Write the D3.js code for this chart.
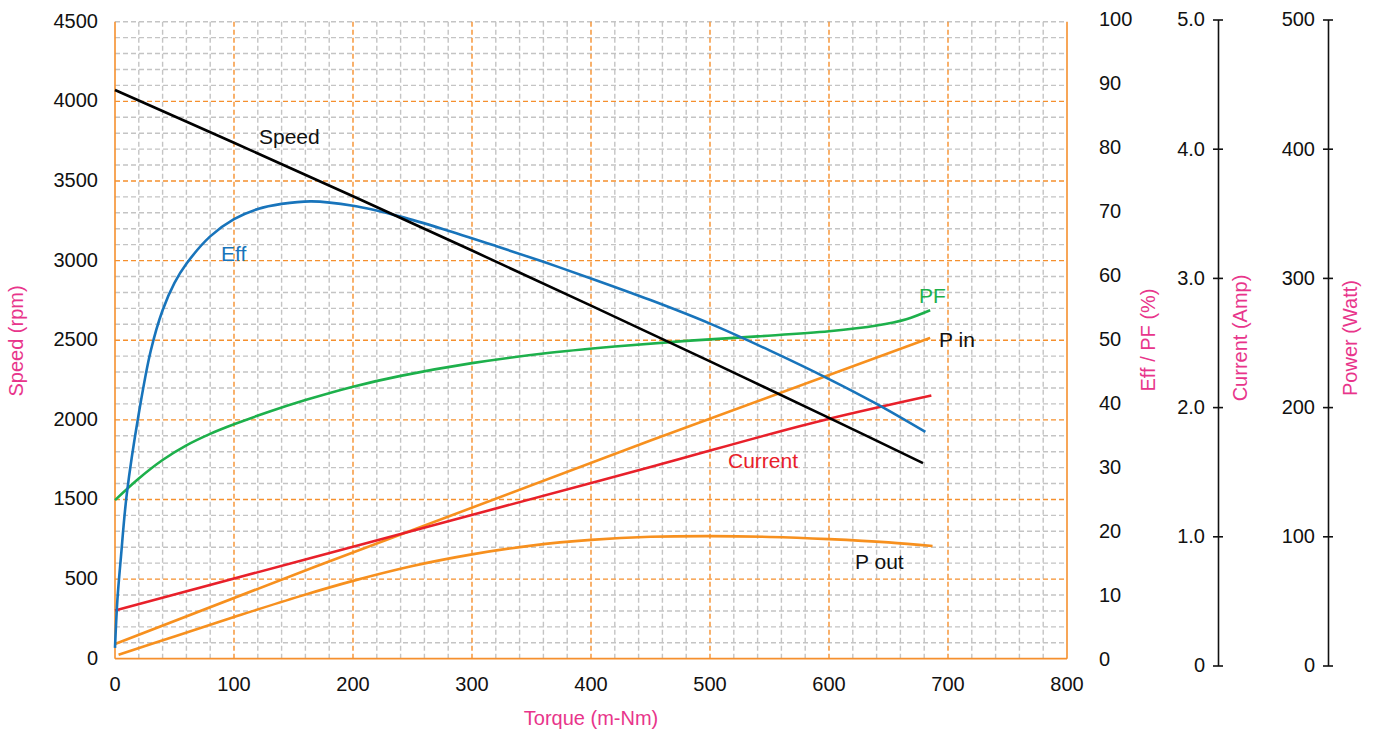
<!DOCTYPE html>
<html><head><meta charset="utf-8">
<script src="https://cdn.jsdelivr.net/npm/d3@7"></script>
<style>
body{margin:0;background:#fff;}
text{font-family:"Liberation Sans",Arial,Helvetica,sans-serif;}
</style>
</head><body>
<svg id="c" width="1378" height="731"></svg>
<script>
// ---- tick labels ----
const torqueTicks = [0,100,200,300,400,500,600,700,800];
const speedTicks = [0,500,1500,2000,2500,3000,3500,4000,4500];
const effTicks = [0,10,20,30,40,50,60,70,80,90,100];
const currentTicks = [0,1,2,3,4,5];
const currentTickLabels = ["0","1.0","2.0","3.0","4.0","5.0"];
const powerTicks = [0,100,200,300,400,500];

// ---- series ----
const speedTorque = [0,100,200,300,400,500,600,679];
const speedValues = [4071,3740,3404,3063,2717,2367,2012,1728];

const effTorque = [0,2,5,10,20,30,40,50,60,80,100,120,140,165,200,240,280,320,360,400,450,500,550,600,640,681];
const effValues = [1.7,9.2,16,26,38.5,48.3,54.7,59.0,62.0,66.3,69.0,70.6,71.4,71.8,71.1,69.4,67.2,64.8,62.3,59.7,56.3,52.6,48.4,43.9,40.0,35.6];

const pfTorque = [0,20,40,60,80,100,130,160,200,240,300,360,420,480,540,600,640,665,685];
const pfValues = [24.9,28.3,31.2,33.5,35.3,36.8,38.8,40.6,42.7,44.4,46.4,47.9,49.0,49.9,50.6,51.4,52.3,53.3,54.7];

const currentTorque = [0,167,408,450,601,686];
const currentValues = [0.426,0.838,1.432,1.536,1.912,2.090];

const pinTorque = [0,167,450,685];
const pinValues = [16.6,76.1,174.1,253.6];

const poutTorque = [3,50,100,155,200,250,300,350,400,450,500,550,600,650,687];
const poutValues = [8.3,22.5,37.5,53.5,65.5,77,86,92.8,97.2,99.6,100.1,99.5,97.8,95.3,92.5];

// ---- layout ----
const svg = d3.select("#c");
const L = 115, R = 1067, T = 21.7, B = 658.7;
const pink = "#e8358b", orange = "#f5902e", gridGray = "#c4c4c4";

const x = d3.scaleLinear().domain([0,800]).range([L,R]);
const band = d3.scaleLinear().domain([0,8]).range([B,T]);
const ySpeed = d3.scaleLinear().domain(speedTicks).range(speedTicks.map((d,i)=>band(i)));
const yEff = d3.scaleLinear().domain([0,100]).range([B,T]);
const yCur = d3.scaleLinear().domain([0,5]).range([665.5,19.5]);
const yPow = d3.scaleLinear().domain([0,500]).range([665.5,19.5]);

// ---- grid ----
const g = svg.append("g");
g.selectAll(".vmin").data(d3.range(0,800,20).filter(d=>d%100!==0)).join("line")
  .attr("x1",d=>x(d)).attr("x2",d=>x(d)).attr("y1",T).attr("y2",B)
  .attr("stroke",gridGray).attr("stroke-width",1.4).attr("stroke-dasharray","5,3");
g.selectAll(".hmin").data(d3.range(1,41).filter(d=>d%5!==0 || d===40)).join("line")
  .attr("x1",L).attr("x2",R).attr("y1",d=>band(d/5)).attr("y2",d=>band(d/5))
  .attr("stroke",gridGray).attr("stroke-width",1.4).attr("stroke-dasharray","5,3");
g.selectAll(".vmaj").data(torqueTicks.slice(1,8)).join("line")
  .attr("x1",d=>x(d)).attr("x2",d=>x(d)).attr("y1",T).attr("y2",B)
  .attr("stroke",orange).attr("stroke-width",1.4).attr("stroke-dasharray","5,3");
g.selectAll(".hmaj").data(d3.range(1,8)).join("line")
  .attr("x1",L).attr("x2",R).attr("y1",d=>band(d)).attr("y2",d=>band(d))
  .attr("stroke",orange).attr("stroke-width",1.4).attr("stroke-dasharray","5,3");
g.append("line").attr("x1",L).attr("x2",L).attr("y1",T).attr("y2",B).attr("stroke",orange).attr("stroke-width",1.6);
g.append("line").attr("x1",R).attr("x2",R).attr("y1",T).attr("y2",B).attr("stroke",orange).attr("stroke-width",1.6);
g.append("line").attr("x1",L).attr("x2",R).attr("y1",B).attr("y2",B).attr("stroke",orange).attr("stroke-width",1.8);

// ---- axes labels ----
const fs = 20;
svg.append("g").selectAll("text").data(torqueTicks).join("text")
  .attr("x",d=>x(d)).attr("y",691).attr("text-anchor","middle")
  .attr("font-size",fs).attr("fill","#111").text(d=>d);
svg.append("g").selectAll("text").data(speedTicks).join("text")
  .attr("x",98).attr("y",d=>ySpeed(d)+6).attr("text-anchor","end")
  .attr("font-size",fs).attr("fill","#111").text(d=>d);
svg.append("g").selectAll("text").data(effTicks).join("text")
  .attr("x",1099).attr("y",d=>yEff(d)+6+(50-d)*0.026).attr("text-anchor","start")
  .attr("font-size",fs).attr("fill","#111").text(d=>d);

const curAxis = d3.axisLeft(yCur).tickValues(currentTicks).tickFormat((d,i)=>currentTickLabels[i])
  .tickSizeInner(5).tickSizeOuter(0).tickPadding(8);
const ca = svg.append("g").attr("transform","translate(1218,0)").call(curAxis);
const powAxis = d3.axisLeft(yPow).tickValues(powerTicks).tickSizeInner(5).tickSizeOuter(0).tickPadding(8);
const pa = svg.append("g").attr("transform","translate(1328,0)").call(powAxis);
[ca,pa].forEach(a=>{
  a.select(".domain").attr("stroke","#111").attr("stroke-width",1.6);
  a.selectAll(".tick line").attr("x1",-5).attr("x2",5).attr("stroke","#111").attr("stroke-width",1.6);
  a.selectAll(".tick text").attr("font-size",fs).attr("fill","#111")
    .attr("font-family","Liberation Sans, Arial, sans-serif").attr("x",-13);
});

// axis titles
svg.append("text").attr("x",591).attr("y",725).attr("text-anchor","middle")
  .attr("font-size",20).attr("fill",pink).text("Torque (m-Nm)");
const vtitle = (tx,ty,s)=>svg.append("text").attr("transform",`translate(${tx},${ty}) rotate(-90)`)
  .attr("text-anchor","middle").attr("font-size",20).attr("fill",pink).text(s);
vtitle(23,341,"Speed (rpm)");
vtitle(1155,340,"Eff / PF (%)");
vtitle(1247,338,"Current (Amp)");
vtitle(1357,338,"Power (Watt)");

// ---- curves ----
const smooth = d3.curveCatmullRom.alpha(0.5);
const lineFor = (tor,vals,ys,cv)=>d3.line().x((d,i)=>x(tor[i])).y((d,i)=>ys(vals[i])).curve(cv)(vals);
const curves = [
  [poutTorque,poutValues,yPow,"#f7901e",smooth],
  [pinTorque,pinValues,yPow,"#f7901e",d3.curveMonotoneX],
  [currentTorque,currentValues,yCur,"#e8202a",d3.curveMonotoneX],
  [pfTorque,pfValues,yEff,"#1db04b",smooth],
  [effTorque,effValues,yEff,"#1874bb",smooth],
  [speedTorque,speedValues,ySpeed,"#000",smooth]
];
svg.append("g").selectAll("path").data(curves).join("path")
  .attr("d",c=>lineFor(c[0],c[1],c[2],c[4])).attr("fill","none")
  .attr("stroke",c=>c[3]).attr("stroke-width",2.6);

// ---- curve labels ----
const labels = [
  ["Speed",259,144,"#111"],
  ["Eff",221,261,"#1874bb"],
  ["PF",919,303,"#1db04b"],
  ["P in",939,347,"#111"],
  ["Current",728,468,"#e8202a"],
  ["P out",855,569,"#111"]
];
svg.append("g").selectAll("text").data(labels).join("text")
  .attr("x",d=>d[1]).attr("y",d=>d[2]).attr("font-size",21).attr("fill",d=>d[3]).text(d=>d[0]);
</script>
</body></html>
